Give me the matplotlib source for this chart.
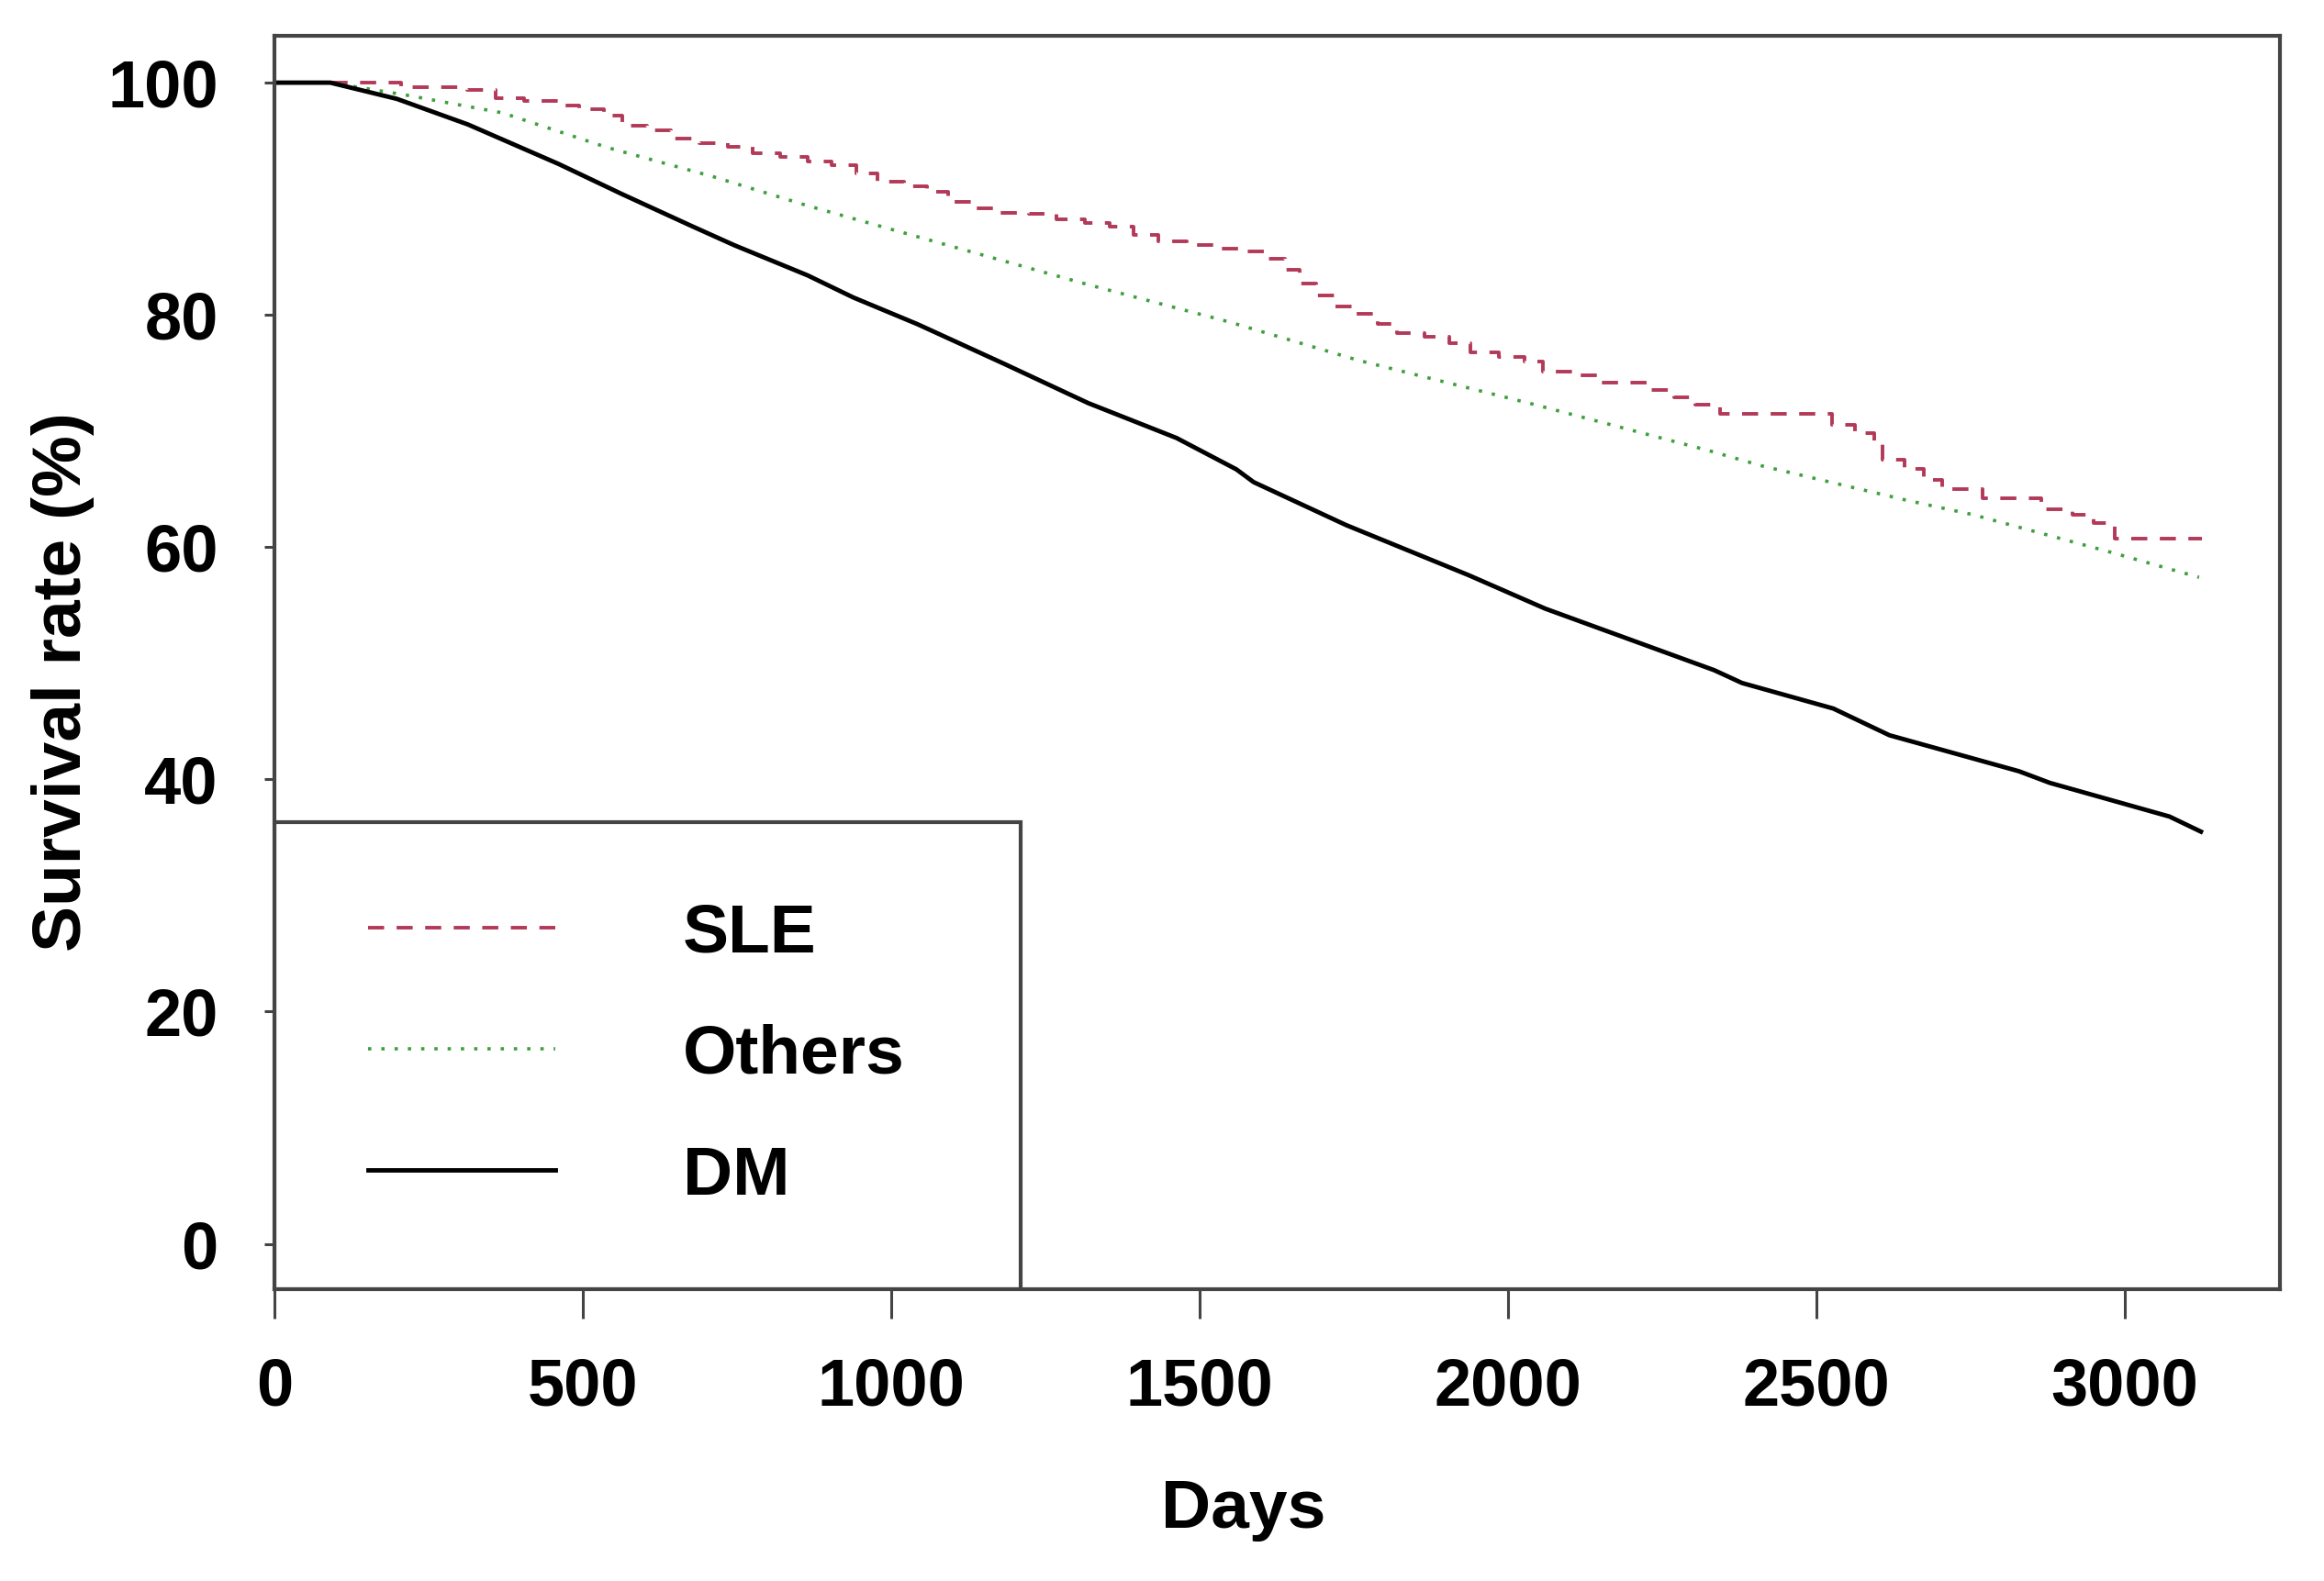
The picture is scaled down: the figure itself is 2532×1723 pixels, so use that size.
import matplotlib.pyplot as plt
from matplotlib.patches import Rectangle

plt.rcParams['font.family'] = ['Liberation Sans', 'DejaVu Sans']
plt.rcParams['font.weight'] = 'bold'

# Kaplan-Meier style survival curves
sle_days = [0, 205, 313, 359, 405, 464, 495, 535, 564, 604, 644, 690, 735, 775, 820,
            865, 904, 944, 978, 1021, 1058, 1092, 1138, 1178, 1223, 1269, 1315, 1354,
            1394, 1434, 1479, 1525, 1571, 1605, 1639, 1662, 1690, 1719, 1753, 1789,
            1820, 1865, 1906, 1940, 1985, 2028, 2057, 2105, 2145, 2230, 2270, 2304,
            2344, 2526, 2563, 2594, 2608, 2643, 2675, 2705, 2770, 2865, 2916, 2950,
            2985, 3125]
sle_vals = [100, 99.6, 99.4, 98.7, 98.4, 98.0, 97.7, 97.2, 96.3, 95.9, 95.2, 94.8, 94.5,
            93.9, 93.6, 93.2, 92.9, 92.2, 91.5, 91.1, 90.6, 89.7, 89.2, 88.8, 88.7, 88.2,
            87.9, 87.6, 86.9, 86.3, 86.0, 85.7, 85.5, 84.8, 83.9, 82.7, 81.7, 80.7, 80.1,
            79.2, 78.4, 78.1, 77.6, 76.8, 76.4, 76.0, 75.1, 74.8, 74.2, 73.5, 72.9, 72.3,
            71.5, 70.5, 69.8, 69.0, 67.5, 66.7, 65.8, 65.0, 64.2, 63.3, 62.8, 62.1, 60.7,
            60.7]

oth_days = [0, 91, 217, 370, 541, 712, 865, 1092, 1320, 1548, 1757, 2042, 2327, 2412,
            2650, 2754, 2982, 3121]
oth_vals = [100, 100, 98.9, 97.4, 94.4, 91.9, 89.4, 86.0, 82.6, 79.4, 76.1, 72.3, 68.3,
            67.0, 64.0, 62.8, 59.5, 57.4]

dm_days = [0, 91, 199, 314, 461, 564, 679, 746, 865, 939, 1043, 1183, 1320, 1463, 1560,
           1588, 1738, 1936, 2061, 2335, 2380, 2528, 2619, 2829, 2879, 3073, 3124]
dm_vals = [100, 100, 98.6, 96.4, 93.0, 90.4, 87.6, 86.0, 83.4, 81.5, 79.2, 75.8, 72.4,
           69.4, 66.7, 65.6, 61.9, 57.6, 54.7, 49.4, 48.3, 46.1, 43.8, 40.7, 39.7, 36.8,
           35.5]

labels = ['SLE', 'Others', 'DM']
xticks = [0, 500, 1000, 1500, 2000, 2500, 3000]
yticks = [0, 20, 40, 60, 80, 100]

spine_col = '#444444'

fig = plt.figure(figsize=(25.32, 17.23), dpi=100)
ax = fig.add_axes([0.118, 0.1846, 0.863, 0.7925])

ax.plot(sle_days, sle_vals, drawstyle='steps-post', color='#b23a58', lw=2.8,
        linestyle=(0, (4.5, 3.5)), label=labels[0])
ax.plot(oth_days, oth_vals, color='#3f9f3f', lw=2.6,
        linestyle=(0, (1, 3.0)), label=labels[1])
ax.plot(dm_days, dm_vals, color='black', lw=3.5, label=labels[2])

ax.set_xlim(0, 3252)
ax.set_ylim(-3.9, 104)
ax.set_xticks(xticks)
ax.set_yticks(yticks)
ax.tick_params(axis='x', length=23, width=2.2, color=spine_col, pad=30, labelsize=52)
ax.tick_params(axis='y', length=8, width=2.2, color=spine_col, pad=36, labelsize=52)
for s in ax.spines.values():
    s.set_color(spine_col)
    s.set_linewidth(3)

# legend box drawn in the lower left corner
ax.add_patch(Rectangle((0, -3.9), 1210, 36.3 + 3.9, fill=False, edgecolor=spine_col,
                       lw=3, zorder=3))
leg = ax.legend(loc='upper left', bbox_to_anchor=(152, 29.4),
                bbox_transform=ax.transData, frameon=False, fontsize=54,
                handlelength=2.72, handletextpad=1.85, labelspacing=0.84,
                borderpad=0, borderaxespad=0)
for t in leg.get_texts():
    t.set_fontweight('bold')

fig.text(0.027, 0.569, 'Survival rate (%)', rotation=90, ha='center', va='center',
         fontsize=54, fontweight='bold')
fig.text(0.535, 0.045, 'Days', ha='center', va='center', fontsize=54, fontweight='bold')

fig.savefig('out.png', dpi=100)
